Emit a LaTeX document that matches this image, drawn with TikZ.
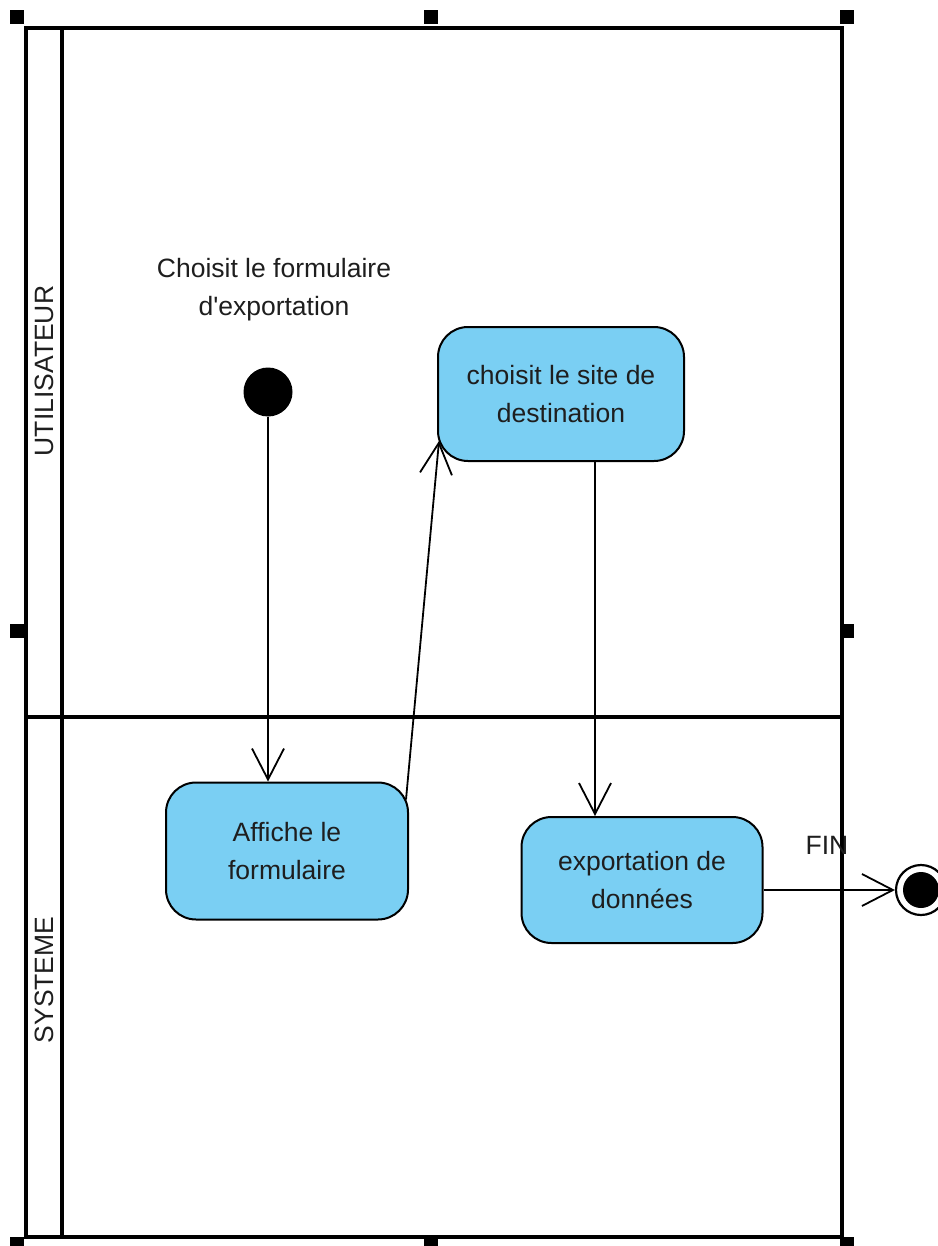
\documentclass[tikz,border=0pt]{standalone}
\usepackage{fontspec}
\newfontfamily\diagfam{Liberation Sans}
\usetikzlibrary{arrows.meta}
\definecolor{actfill}{HTML}{7ACFF3}
\definecolor{txt}{HTML}{1E1E1E}
\newcommand\diagfont{\diagfam\fontsize{26.5}{38}\selectfont}
\begin{document}
\begin{tikzpicture}[x=1pt,y=-1pt,
  lane/.style={line width=3.6pt},
  handle/.style={fill=black, draw=none, minimum size=14pt, inner sep=0pt},
  action/.style={draw=black, line width=2pt, fill=actfill, rounded corners=30pt,
    inner sep=0pt, align=center, font=\diagfont, text=txt},
  flow/.style={line width=1.8pt, -{Straight Barb[length=31pt,width=32pt,line width=1.8pt]}},
  txtlbl/.style={font=\diagfont, text=txt, align=center}
]
\useasboundingbox (0,0) rectangle (937,1246);

% swimlane frame
\draw[lane] (26,28) rectangle (842,1237);
\draw[lane] (62,28) -- (62,1237);
\draw[lane] (26,717) -- (842,717);

% lane titles
\node[txtlbl, rotate=90] (laneU) at (44,371) {UTILISATEUR};
\node[txtlbl, rotate=90] (laneS) at (44,980) {SYSTEME};

% selection handles
\foreach \hx/\hy [count=\i] in {17/17, 431/17, 847/17, 17/631, 847/631, 17/1244, 431/1244, 847/1244}
  \node[handle] (h\i) at (\hx,\hy) {};

% initial node and its note
\node[circle, fill=black, minimum size=49pt, inner sep=0pt] (init) at (268,392) {};
\node[txtlbl] (note) at (274,290) {Choisit le formulaire\\d'exportation};

% actions
\node[action, minimum width=242pt, minimum height=137pt] (aff) at (287,851) {Affiche le\\formulaire};
\node[action, minimum width=246pt, minimum height=134pt] (site) at (561,394) {choisit le site de\\destination};
\node[action, minimum width=241pt, minimum height=126pt] (expo) at (642,880) {exportation de\\données};

% final node
\node[circle, draw=black, fill=white, line width=2.2pt, minimum size=50pt, inner sep=0pt] (fin) at (921,890) {};
\node[circle, fill=black, minimum size=36pt, inner sep=0pt] (finin) at (fin) {};
\node[txtlbl] (finlbl) at (827,845) {FIN};

% control flows
\draw[flow] (init.south) -- (init.south |- aff.north);
\draw[flow] ([xshift=-3pt,yshift=-18pt]aff.north east) -- ([xshift=2pt,yshift=21pt]site.south west);
\draw[flow] ([xshift=34pt]site.south) -- ([xshift=34pt]site.south |- expo.north);
\draw[flow] (fin -| expo.east) -- (fin.west);
\end{tikzpicture}
\end{document}
